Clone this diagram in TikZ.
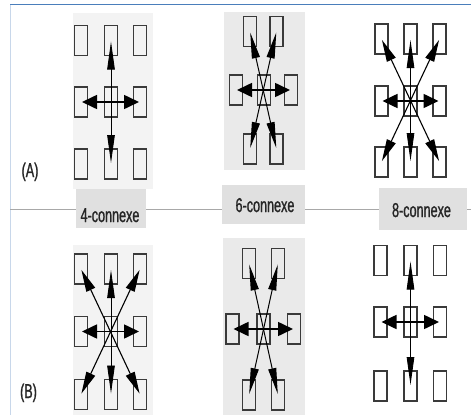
\documentclass[tikz,border=0pt]{standalone}
\usepackage{fontspec}
\usetikzlibrary{arrows.meta}
\newfontfamily\condfont[FakeStretch=0.63,FakeBold=1]{Liberation Sans}
\definecolor{cellline}{HTML}{3A3A3A}
\definecolor{bgA}{HTML}{F3F3F3}
\definecolor{bgB}{HTML}{EAEAEA}
\definecolor{labfill}{HTML}{E0E0E0}
\definecolor{topblue}{HTML}{4A7EBB}
\definecolor{leftborder}{HTML}{C8D7EA}
\definecolor{midline}{HTML}{A8A8A8}
\tikzset{
  cell/.style={draw=cellline, line width=1.4pt, minimum width=13pt, minimum height=30pt, inner sep=0pt},
  arrV/.style={line width=0.9pt, {Triangle[length=28pt,width=7.5pt]}-{Triangle[length=28pt,width=7.5pt]}, shorten <=1pt, shorten >=1pt},
  arrH/.style={line width=1.6pt, {Triangle[length=15pt,width=14pt]}-{Triangle[length=15pt,width=14pt]}, shorten <=1pt, shorten >=1pt},
  arrD/.style={line width=1.1pt, {Triangle[length=22pt,width=9.5pt]}-{Triangle[length=22pt,width=9.5pt]}, shorten <=1pt, shorten >=1pt},
  arrX/.style={line width=1pt, {Triangle[length=26pt,width=8pt]}-{Triangle[length=26pt,width=8pt]}, shorten <=1pt, shorten >=1pt},
  labbox/.style={fill=labfill, draw=none, inner sep=0pt},
  labtext/.style={font=\condfont\fontsize{20}{22}\selectfont, text=black!85, inner sep=0pt, anchor=base},
  panel/.style={draw=none, inner sep=0pt}
}
\begin{document}
\begin{tikzpicture}[x=1pt,y=-1pt]
\useasboundingbox (0,0) rectangle (471,415);
\fill[white] (0,0) rectangle (471,415);
% frame lines
\coordinate (tl) at (10,4.5);
\coordinate (tr) at (471,4.5);
\coordinate (bl) at (10.5,415);
\coordinate (ml) at (10,209);
\coordinate (mr) at (471,209);
\draw[topblue, line width=1.5pt] (tl) -- (tr);
\draw[leftborder, line width=1pt] (10.5,4.5) -- (bl);
\draw[midline, line width=0.9pt] (ml) -- (mr);
% background panels
\node[panel, fill=bgA, minimum width=80pt, minimum height=176pt] (pA1) at (113,101) {};
\node[panel, fill=bgB, minimum width=81pt, minimum height=158pt] (pA2) at (264.5,91) {};
\node[panel, fill=bgA, minimum width=80pt, minimum height=170pt] (pB1) at (113,330) {};
\node[panel, fill=bgB, minimum width=82pt, minimum height=177pt] (pB2) at (264,326.5) {};
% A1 grid
\foreach \c/\x in {1/81,2/111,3/140}
  \foreach \r/\y in {1/40.5,2/102,3/164}
    \node[cell] (a1-\r\c) at (\x,\y) {};
% A2 hex
\node[cell] (a2-t1) at (250,31.5) {};
\node[cell] (a2-t2) at (276.5,31.5) {};
\node[cell] (a2-m1) at (236,90) {};
\node[cell] (a2-m2) at (264,90) {};
\node[cell] (a2-m3) at (291,90) {};
\node[cell] (a2-b1) at (250,149) {};
\node[cell] (a2-b2) at (276.5,149) {};
% A3 grid
\foreach \c/\x in {1/381.5,2/410.5,3/439.5}
  \foreach \r/\y in {1/39,2/101,3/162}
    \node[cell] (a3-\r\c) at (\x,\y) {};
% B1 grid
\foreach \c/\x in {1/81,2/111,3/140}
  \foreach \r/\y in {1/269,2/331.5,3/394.5}
    \node[cell] (b1-\r\c) at (\x,\y) {};
% B2 hex
\node[cell] (b2-t1) at (249,263.5) {};
\node[cell] (b2-t2) at (278,263.5) {};
\node[cell] (b2-m1) at (232.5,329) {};
\node[cell] (b2-m2) at (263.5,329) {};
\node[cell] (b2-m3) at (294,329) {};
\node[cell] (b2-b1) at (249,395) {};
\node[cell] (b2-b2) at (278,395) {};
% B3 grid
\foreach \c/\x in {1/380.5,2/410.5,3/440}
  \foreach \r/\y in {1/260.5,2/322,3/386}
    \node[cell] (b3-\r\c) at (\x,\y) {};
% arrows A1 (4 neighbours)
\draw[arrV] (a1-12.center) -- (a1-32.center);
\draw[arrH] (a1-21.center) -- (a1-23.center);
% arrows A2 (6 neighbours)
\draw[arrX] (a2-t1.center) -- (a2-b2.center);
\draw[arrX] (a2-t2.center) -- (a2-b1.center);
\draw[arrH] (a2-m1.center) -- (a2-m3.center);
% arrows A3 (8 neighbours)
\draw[arrD] (a3-11.center) -- (a3-33.center);
\draw[arrD] (a3-13.center) -- (a3-31.center);
\draw[arrV] (a3-12.center) -- (a3-32.center);
\draw[arrH] (a3-21.center) -- (a3-23.center);
% arrows B1 (8 neighbours)
\draw[arrD] (b1-11.center) -- (b1-33.center);
\draw[arrD] (b1-13.center) -- (b1-31.center);
\draw[arrV] (b1-12.center) -- (b1-32.center);
\draw[arrH] (b1-21.center) -- (b1-23.center);
% arrows B2 (6 neighbours)
\draw[arrX] (b2-t1.center) -- (b2-b2.center);
\draw[arrX] (b2-t2.center) -- (b2-b1.center);
\draw[arrH] (b2-m1.center) -- (b2-m3.center);
% arrows B3 (4 neighbours)
\draw[arrV] (b3-12.center) -- (b3-32.center);
\draw[arrH] (b3-21.center) -- (b3-23.center);
% label boxes
\node[labbox, minimum width=70pt, minimum height=39pt] (l4) at (111,208.5) {};
\node[labtext] (t4) at (110,222) {4-connexe};
\node[labbox, minimum width=83pt, minimum height=39pt] (l6) at (263.5,204.5) {};
\node[labtext] (t6) at (265,212) {6-connexe};
\node[labbox, minimum width=88pt, minimum height=42pt] (l8) at (423,209) {};
\node[labtext] (t8) at (421.5,217) {8-connexe};
% row labels
\node[labtext] (rA) at (30,177) {(A)};
\node[labtext] (rB) at (28.5,398) {(B)};
\end{tikzpicture}
\end{document}
